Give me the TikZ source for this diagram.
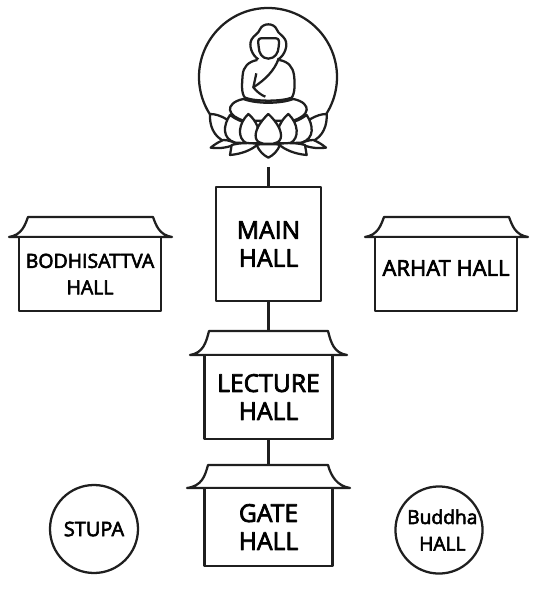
\documentclass[tikz,border=0pt]{standalone}
\usepackage{fontspec}
\setmainfont{Open Sans}[FakeBold=3]
\tikzset{
  x=0.75pt,y=-0.75pt,
  ln/.style={draw=black!88,line width=1.7pt,line join=round},
  hall/.style={ln,rectangle,anchor=north west,inner sep=0pt,outer sep=0pt,align=center,fill=white},
  big/.style={font=\fontsize{18.5}{21}\selectfont},
  petal/.style={ln,fill=white},
  round hall/.style={ln,circle,inner sep=0pt,outer sep=0pt,align=center,fill=white},
  fig/.style={x=0.25pt,y=-0.25pt,xshift=135pt},
}
\newcommand{\hallroof}[6]{% xeaveL xtopL xtopR xeaveR ytop yeave
  \draw[ln,fill=white] (#1,#6) .. controls ({#2-6},{#6-2}) and ({#2-3},{#6-12}) .. (#2,#5) -- (#3,#5) .. controls ({#3+3},{#6-12}) and ({#4-13},{#6-2}) .. (#4,#6) -- cycle;}
\newcommand{\halflotus}{%
  \draw[petal] (140,358) .. controls (120,346) and (105,342) .. (90,342) .. controls (88,375) and (100,410) .. (135,425) -- (170,425) -- cycle;
  \draw[petal] (185,364) .. controls (172,360) and (160,352) .. (150,345) .. controls (130,375) and (125,415) .. (165,428) -- (215,430) -- cycle;
  \draw[petal] (232,378) .. controls (225,362) and (215,350) .. (205,342) .. controls (175,370) and (170,415) .. (200,430) -- (240,430) -- cycle;
  \draw[petal] (92,443) .. controls (105,432) and (118,425) .. (130,420) .. controls (145,420) and (155,425) .. (170,430) .. controls (150,442) and (120,447) .. (92,443) -- cycle;
  \draw[petal] (150,465) .. controls (152,455) and (153,445) .. (155,435) .. controls (180,428) and (210,428) .. (235,432) .. controls (215,450) and (185,462) .. (150,465) -- cycle;
}
\begin{document}
\begin{tikzpicture}
\useasboundingbox (0,0) rectangle (539,591);
\node[ln,circle,minimum size=103.5pt,inner sep=0pt,outer sep=0pt] (halo) at (268,77) {};
\begin{scope}[fig]
  \draw[ln,fill=white] (235,178) .. controls (215,165) and (205,135) .. (215,118) .. controls (222,105) and (235,102) .. (240,88) .. controls (248,68) and (282,68) .. (290,88) .. controls (295,102) and (308,105) .. (315,118) .. controls (325,135) and (315,165) .. (295,178);
  \draw[ln] (243,115) -- (288,115) .. controls (298,115) and (298,125) .. (296,140) .. controls (295,160) and (285,175) .. (265,176) .. controls (245,175) and (237,160) .. (236,140) .. controls (234,125) and (233,115) .. (243,115) -- cycle;
  \draw[ln] (232,180) .. controls (205,185) and (190,200) .. (188,225) .. controls (186,250) and (183,280) .. (195,293) .. controls (225,305) and (305,305) .. (335,293) .. controls (345,280) and (345,250) .. (342,225) .. controls (338,200) and (325,185) .. (298,180);
  \draw[ln] (296,175) .. controls (285,210) and (255,240) .. (220,262) .. controls (230,275) and (243,285) .. (256,290);
  \draw[ln] (229,220) -- (220,262);
  \draw[petal] (190,297) .. controls (160,303) and (148,318) .. (150,330) .. controls (152,345) and (170,355) .. (190,362) -- (340,362) .. controls (360,355) and (378,345) .. (380,330) .. controls (382,318) and (370,303) .. (340,297) .. controls (300,312) and (230,312) .. (190,297) -- cycle;
  \begin{scope}\halflotus\end{scope}
  \begin{scope}[xscale=-1,xshift=-132.5pt]\halflotus\end{scope}
  \draw[petal] (265,342) .. controls (240,365) and (222,395) .. (228,415) .. controls (231,425) and (240,430) .. (250,431) -- (280,431) .. controls (290,430) and (299,425) .. (302,415) .. controls (308,395) and (290,365) .. (265,342) -- cycle;
  \draw[petal] (230,434) .. controls (240,432) and (290,432) .. (300,434) .. controls (292,455) and (280,465) .. (265,473) .. controls (250,465) and (238,455) .. (230,434) -- cycle;
\end{scope}
\coordinate (lotusbase) at (268.5,167);
\node[hall,minimum width=78.75pt,minimum height=85.5pt,big] (main) at (216,187) {MAIN\\HALL};
\coordinate (lectop) at (268.5,331);
\coordinate (gatetop) at (268.5,465);
\hallroof{190}{209}{328}{347}{331}{355}
\node[hall,minimum width=96pt,minimum height=63pt,big] (lecture) at (204.5,355) {LECTURE\\HALL};
\hallroof{187}{208}{328}{350}{465}{488}
\node[hall,minimum width=96pt,minimum height=58.5pt,big] (gate) at (204.5,488) {GATE\\HALL};
\hallroof{9}{28}{153}{172}{217}{237}
\node[hall,minimum width=106.5pt,minimum height=55.5pt,font=\fontsize{14.6}{19.8}\selectfont] (bodhi) at (19,237) {BODHISATTVA\\HALL};
\hallroof{365}{384}{509}{528}{217}{237}
\node[hall,minimum width=106.5pt,minimum height=55.5pt,font=\fontsize{16.5}{19.8}\selectfont] (arhat) at (375,237) {\raisebox{9pt}{ARHAT HALL}};
\node[round hall,minimum size=66pt,font=\fontsize{15}{18}\selectfont] (stupa) at (94,529) {STUPA};
\node[round hall,minimum size=63pt,font=\fontsize{14.4}{20}\selectfont] (buddha) at (439,530) {\hspace{5pt}Buddha\\\hspace{5pt}HALL};
\draw[ln] (lotusbase) -- (main.north);
\draw[ln] (main.south) -- (main.south |- lectop);
\draw[ln] (lecture.south) -- (lecture.south |- gatetop);
\end{tikzpicture}
\end{document}
